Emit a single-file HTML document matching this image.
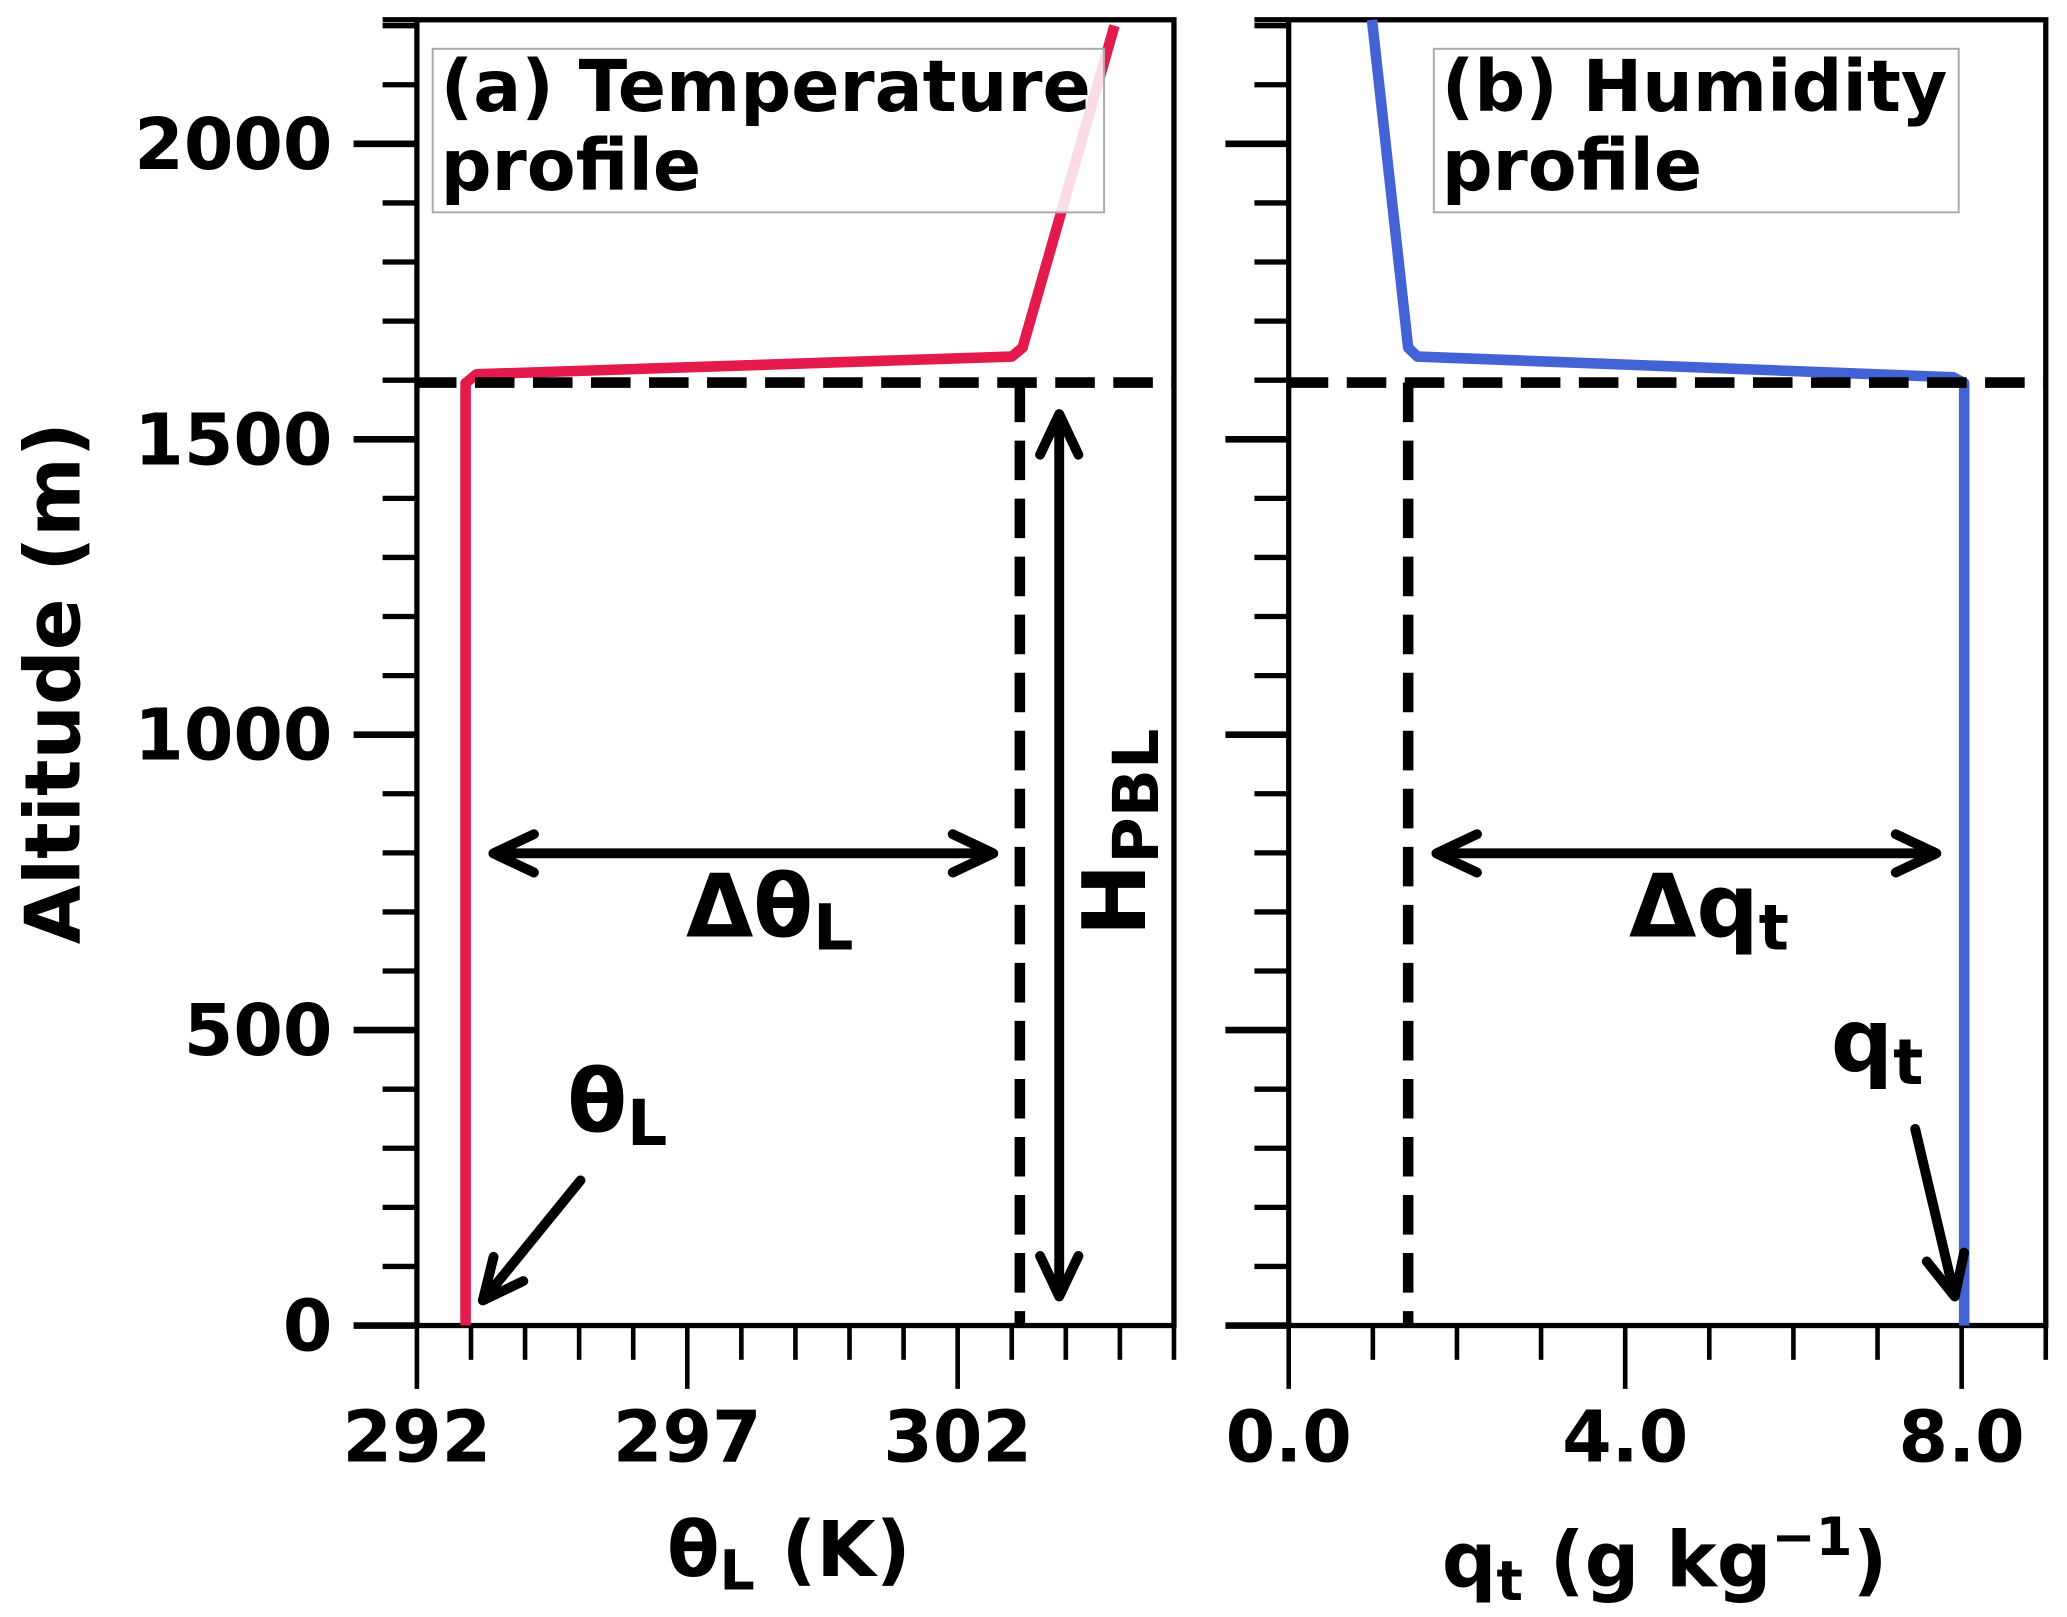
<!DOCTYPE html>
<html><head><meta charset="utf-8"><style>
html,body{margin:0;padding:0;background:#fff;}
svg{display:block;font-family:"DejaVu Sans","Liberation Sans",sans-serif;font-weight:bold;}
</style></head><body>
<svg id="fig" width="2067" height="1617" viewBox="0 0 1567 1226" xmlns="http://www.w3.org/2000/svg">
<g id="root"></g>
</svg>
<script>
const altTicks=[0,500,1000,1500,2000];
const thetaTicks=[292,297,302];
const qTickLabels=["0.0","4.0","8.0"];
const qTicks=[0,4,8];
const thetaVals=[292.9,292.9,293.1,303.0,303.2,304.9];
const thetaAlts=[0,1595,1610,1640,1655,2200];
const qVals=[8.03,8.03,7.9,1.53,1.42,0.99];
const qAlts=[0,1595,1605,1640,1655,2210];
const pblHeight=[1596];
const thetaJump=[303.15];
const qJump=[1.42];

const NS="http://www.w3.org/2000/svg";
const root=document.getElementById('root');
function el(tag,attrs,parent){const e=document.createElementNS(NS,tag);for(const k in attrs)e.setAttribute(k,attrs[k]);(parent||root).appendChild(e);return e;}
const Y0=1005,YT=15,yMax=2210;
function ya(v){return Y0-(Y0-YT)*v/yMax;}
function mkX(x0,x1,d0,d1){return v=>x0+(x1-x0)*(v-d0)/(d1-d0);}
const xa=mkX(316,890,292,306);
const xb=mkX(977,1551,0,9);

function axes(L,R,xf,d0,d1,majors,labels,name){
  const g=el('g',{});
  
  
  el('rect',{x:L,y:YT,width:R-L,height:Y0-YT,fill:'none',stroke:'#000','stroke-width':4},g);
  el('line',{x1:L-26,y1:YT,x2:L,y2:YT,stroke:'#000','stroke-width':4},g);
  for(let a=0;a<=2200;a+=100){
    const maj=a%500===0;
    el('line',{x1:L-(maj?48:26),y1:ya(a),x2:L,y2:ya(a),stroke:'#000','stroke-width':maj?5:4},g);
  }
  for(let v=d0;v<=d1;v+=1){
    const maj=majors.includes(v);
    el('line',{x1:xf(v),y1:Y0,x2:xf(v),y2:Y0+(maj?48:26),stroke:'#000','stroke-width':3.5},g);
  }
  majors.forEach((v,i)=>{
    const t=el('text',{x:xf(v),y:1108,'font-size':54,'text-anchor':'middle'},g);
    t.textContent=labels[i];
    
    
  });
}
axes(316,890,xa,292,306,thetaTicks,thetaTicks.map(String),'temperature');
axes(977,1551,xb,0,9,qTicks,qTickLabels,'humidity');
altTicks.forEach(a=>{
  const t=el('text',{x:252,y:ya(a)+19,'font-size':54,'text-anchor':'end'});
  t.textContent=String(a);
  
  
});

function series(xs,as,xf,color,name){
  const p=el('polyline',{points:xs.map((v,i)=>xf(v)+','+ya(as[i])).join(' '),fill:'none',stroke:color,'stroke-width':8,'stroke-linejoin':'round'});
  
  
}
series(thetaVals,thetaAlts,xa,'#e31a4b','theta-profile-line');
series(qVals,qAlts,xb,'#4262d6','qt-profile-line');

function dashed(x1,y1,x2,y2,name){
  const l=el('line',{x1,y1,x2,y2,stroke:'#000','stroke-width':8,'stroke-dasharray':'30 14'});
  
  
}
dashed(316,ya(pblHeight[0]),890,ya(pblHeight[0]),'pbl-top-dashed-a');
dashed(977,ya(pblHeight[0]),1551,ya(pblHeight[0]),'pbl-top-dashed-b');
dashed(xa(thetaJump[0]),ya(pblHeight[0]),xa(thetaJump[0]),Y0,'theta-jump-dashed');
dashed(xb(qJump[0]),ya(pblHeight[0]),xb(qJump[0]),Y0,'qt-jump-dashed');

function head(x,y,ang){
  const a1=ang+2.7,a2=ang-2.7,s=34;
  return `M${x+s*Math.cos(a1)},${y+s*Math.sin(a1)} L${x},${y} L${x+s*Math.cos(a2)},${y+s*Math.sin(a2)}`;
}
function arrow(x1,y1,x2,y2,both,name){
  const ang=Math.atan2(y2-y1,x2-x1);
  let d=`M${x1},${y1} L${x2},${y2} `+head(x2,y2,ang);
  if(both)d+=' '+head(x1,y1,ang+Math.PI);
  const p=el('path',{d,fill:'none',stroke:'#000','stroke-width':7.5,'stroke-linecap':'round','stroke-linejoin':'round'});
  
  
}
arrow(374,647,753,647,true,'delta-theta-arrow');
arrow(803,314,803,983,true,'hpbl-arrow');
arrow(440,895,366,986,false,'theta-label-arrow');
arrow(1089,647,1468,647,true,'delta-qt-arrow');
arrow(1452,856,1482,983,false,'qt-label-arrow');

function txt(x,y,size,html,name,extra){
  const t=el('text',Object.assign({x,y,'font-size':size},extra||{}));
  t.innerHTML=html;
  
  
  return t;
}
txt(520,710,66,'Δθ<tspan font-size="48" dy="10">L</tspan>','delta-theta-label');
txt(1235,710,66,'Δq<tspan font-size="48" dy="10">t</tspan>','delta-qt-label');
txt(430,858,66,'θ<tspan font-size="48" dy="10">L</tspan>','theta-label');
txt(1388,812,66,'q<tspan font-size="48" dy="10">t</tspan>','qt-label');
txt(0,0,66,'H<tspan font-size="48" dy="10">PBL</tspan>','hpbl-label',{transform:'translate(868,710) rotate(-90)'});

function legend(x,w,l1,name){
  const g=el('g',{});
  
  
  el('rect',{x,y:37,width:w,height:124,fill:'rgba(255,255,255,0.85)',stroke:'#aaa','stroke-width':1.5},g);
  const a=el('text',{x:x+6,y:84,'font-size':54},g);a.textContent=l1;
  const b=el('text',{x:x+6,y:144,'font-size':54},g);b.textContent='profile';
}
legend(328,509,'(a) Temperature','legend-temperature');
legend(1087,398,'(b) Humidity','legend-humidity');

txt(0,0,58,'Altitude (m)','y-axis-title',{transform:'translate(60,518) rotate(-90)','text-anchor':'middle'});
txt(598,1195,58,'θ<tspan font-size="42" dy="10">L</tspan><tspan dy="-10"> (K)</tspan>','x-axis-title-theta',{'text-anchor':'middle'});
txt(1262,1203,58,'q<tspan font-size="42" dy="10">t</tspan><tspan dy="-10"> (g kg</tspan><tspan font-size="40" dy="-24">−1</tspan><tspan dy="24">)</tspan>','x-axis-title-qt',{'text-anchor':'middle'});
</script>
</body></html>
